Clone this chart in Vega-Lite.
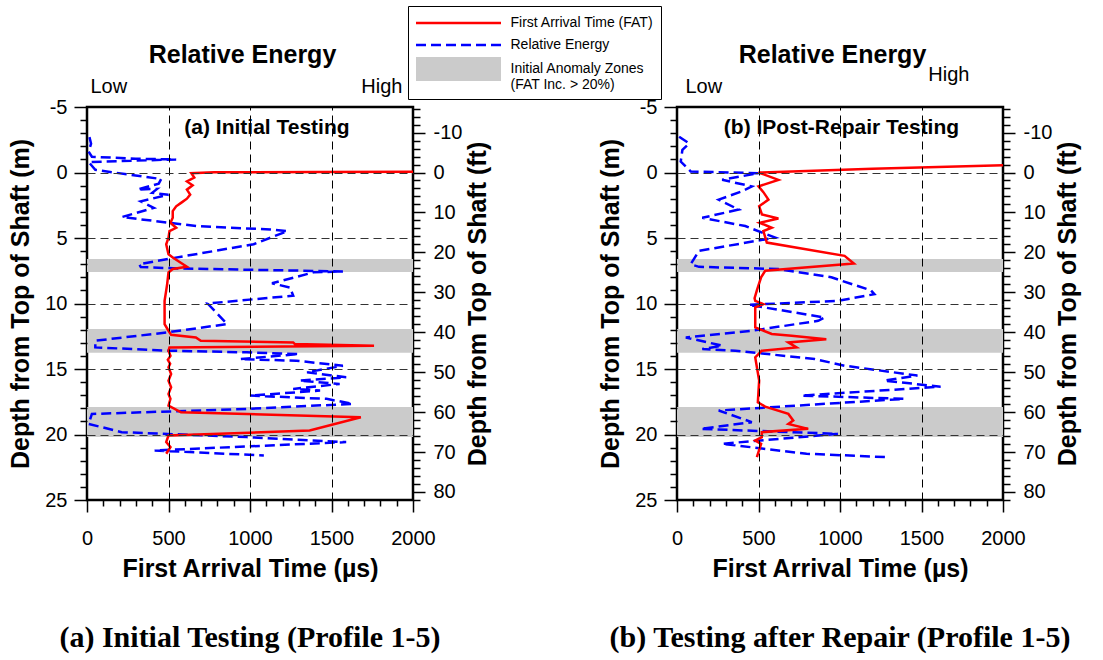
{
  "$schema": "https://vega.github.io/schema/vega-lite/v6.json",
  "background": "white",
  "padding": {"left": 7, "top": 5, "right": 5, "bottom": 5},
  "spacing": 104,
  "resolve": {"scale": {"color": "shared", "shape": "shared"}, "legend": {"color": "shared", "shape": "shared"}},
  "datasets": {
    "zones": [{"top": 6.6, "bottom": 7.6}, {"top": 11.95, "bottom": 13.75}, {"top": 17.9, "bottom": 20.2}],
    "one": [{"n": 1}],
    "fatA": [
      {"us": 2000, "depth": -0.05}, {"us": 1400, "depth": -0.04}, {"us": 780, "depth": -0.02}, {"us": 640, "depth": 0.05},
      {"us": 658, "depth": 0.38}, {"us": 613, "depth": 0.68}, {"us": 648, "depth": 0.98}, {"us": 613, "depth": 1.31},
      {"us": 633, "depth": 1.69}, {"us": 613, "depth": 2.0}, {"us": 577, "depth": 2.32}, {"us": 547, "depth": 2.58},
      {"us": 526, "depth": 2.95}, {"us": 526, "depth": 3.46}, {"us": 512, "depth": 3.84}, {"us": 547, "depth": 4.22},
      {"us": 506, "depth": 4.47}, {"us": 500, "depth": 4.97}, {"us": 486, "depth": 5.48}, {"us": 500, "depth": 6.24},
      {"us": 526, "depth": 6.49}, {"us": 613, "depth": 7.2}, {"us": 526, "depth": 7.37}, {"us": 500, "depth": 7.63},
      {"us": 492, "depth": 8.5}, {"us": 486, "depth": 9.0}, {"us": 476, "depth": 9.8}, {"us": 476, "depth": 11.57},
      {"us": 500, "depth": 12.08}, {"us": 516, "depth": 12.39}, {"us": 668, "depth": 12.59}, {"us": 698, "depth": 12.84},
      {"us": 1265, "depth": 12.97}, {"us": 1275, "depth": 13.1}, {"us": 1761, "depth": 13.22}, {"us": 506, "depth": 13.35},
      {"us": 500, "depth": 13.6}, {"us": 512, "depth": 14.0}, {"us": 496, "depth": 14.3}, {"us": 510, "depth": 14.6},
      {"us": 500, "depth": 14.87}, {"us": 516, "depth": 15.38}, {"us": 500, "depth": 15.89}, {"us": 516, "depth": 16.4},
      {"us": 500, "depth": 16.9}, {"us": 512, "depth": 17.28}, {"us": 500, "depth": 17.79}, {"us": 577, "depth": 18.3},
      {"us": 1680, "depth": 18.68}, {"us": 1366, "depth": 19.7}, {"us": 500, "depth": 20.08}, {"us": 486, "depth": 20.58},
      {"us": 512, "depth": 20.96}, {"us": 486, "depth": 21.47}
    ],
    "reA": [
      {"us": 15, "depth": -2.7}, {"us": 25, "depth": -2.2}, {"us": 10, "depth": -1.6}, {"us": 30, "depth": -1.2},
      {"us": 300, "depth": -1.05}, {"us": 547, "depth": -1.0}, {"us": 10, "depth": -0.8}, {"us": 51, "depth": -0.2},
      {"us": 455, "depth": 0.5}, {"us": 440, "depth": 0.85}, {"us": 310, "depth": 1.3}, {"us": 430, "depth": 1.25},
      {"us": 400, "depth": 1.55}, {"us": 500, "depth": 1.7}, {"us": 330, "depth": 2.2}, {"us": 410, "depth": 2.7},
      {"us": 215, "depth": 3.4}, {"us": 506, "depth": 3.84}, {"us": 680, "depth": 4.1}, {"us": 1125, "depth": 4.35},
      {"us": 1230, "depth": 4.47}, {"us": 1022, "depth": 5.48}, {"us": 496, "depth": 6.6}, {"us": 320, "depth": 7.0},
      {"us": 330, "depth": 7.22}, {"us": 580, "depth": 7.33}, {"us": 1570, "depth": 7.55}, {"us": 1390, "depth": 7.62},
      {"us": 1135, "depth": 8.46}, {"us": 1245, "depth": 8.78}, {"us": 1265, "depth": 9.4}, {"us": 740, "depth": 10.0},
      {"us": 860, "depth": 11.57}, {"us": 496, "depth": 12.2}, {"us": 51, "depth": 12.84}, {"us": 51, "depth": 13.35},
      {"us": 496, "depth": 13.6}, {"us": 980, "depth": 13.73}, {"us": 1300, "depth": 13.86}, {"us": 940, "depth": 14.24},
      {"us": 1285, "depth": 14.37}, {"us": 1570, "depth": 14.75}, {"us": 1350, "depth": 15.25}, {"us": 1590, "depth": 15.63},
      {"us": 1305, "depth": 15.89}, {"us": 1550, "depth": 16.14}, {"us": 1265, "depth": 16.52}, {"us": 1430, "depth": 16.65},
      {"us": 1000, "depth": 17.03}, {"us": 1470, "depth": 17.28}, {"us": 1630, "depth": 17.66}, {"us": 980, "depth": 18.05},
      {"us": 30, "depth": 18.43}, {"us": 10, "depth": 19.19}, {"us": 213, "depth": 19.82}, {"us": 980, "depth": 20.2},
      {"us": 1590, "depth": 20.58}, {"us": 415, "depth": 21.22}, {"us": 1085, "depth": 21.6}
    ],
    "fatB": [
      {"us": 2000, "depth": -0.55}, {"us": 1200, "depth": -0.28}, {"us": 500, "depth": 0.0}, {"us": 622, "depth": 0.56},
      {"us": 500, "depth": 1.06}, {"us": 530, "depth": 1.5}, {"us": 561, "depth": 2.07}, {"us": 504, "depth": 2.58},
      {"us": 521, "depth": 3.2}, {"us": 622, "depth": 3.51}, {"us": 508, "depth": 3.84}, {"us": 581, "depth": 4.22},
      {"us": 530, "depth": 4.47}, {"us": 551, "depth": 5.35}, {"us": 1028, "depth": 6.36}, {"us": 1085, "depth": 6.94},
      {"us": 541, "depth": 7.5}, {"us": 516, "depth": 8.0}, {"us": 490, "depth": 9.0}, {"us": 476, "depth": 9.6},
      {"us": 480, "depth": 9.8}, {"us": 530, "depth": 10.05}, {"us": 480, "depth": 10.3}, {"us": 480, "depth": 11.83},
      {"us": 581, "depth": 12.33}, {"us": 703, "depth": 12.46}, {"us": 916, "depth": 12.72}, {"us": 683, "depth": 12.97},
      {"us": 733, "depth": 13.35}, {"us": 520, "depth": 13.6}, {"us": 480, "depth": 14.11}, {"us": 504, "depth": 15.89},
      {"us": 496, "depth": 17.54}, {"us": 541, "depth": 17.87}, {"us": 683, "depth": 18.43}, {"us": 713, "depth": 18.93},
      {"us": 683, "depth": 19.19}, {"us": 805, "depth": 19.57}, {"us": 520, "depth": 19.82}, {"us": 520, "depth": 20.2},
      {"us": 480, "depth": 20.46}, {"us": 516, "depth": 20.71}, {"us": 490, "depth": 21.73}
    ],
    "reB": [
      {"us": 13, "depth": -2.73}, {"us": 74, "depth": -2.22}, {"us": 33, "depth": -1.72}, {"us": 23, "depth": -0.83},
      {"us": 84, "depth": -0.08}, {"us": 500, "depth": 0.05}, {"us": 277, "depth": 0.56}, {"us": 459, "depth": 1.06},
      {"us": 398, "depth": 1.44}, {"us": 256, "depth": 2.07}, {"us": 378, "depth": 2.83}, {"us": 155, "depth": 3.46},
      {"us": 419, "depth": 4.09}, {"us": 602, "depth": 4.97}, {"us": 135, "depth": 5.98}, {"us": 84, "depth": 7.0},
      {"us": 135, "depth": 7.2}, {"us": 622, "depth": 7.37}, {"us": 947, "depth": 8.0}, {"us": 1190, "depth": 9.0},
      {"us": 1211, "depth": 9.29}, {"us": 987, "depth": 9.8}, {"us": 439, "depth": 10.1}, {"us": 906, "depth": 11.07},
      {"us": 866, "depth": 11.32}, {"us": 459, "depth": 12.08}, {"us": 54, "depth": 12.59}, {"us": 277, "depth": 13.22},
      {"us": 155, "depth": 13.48}, {"us": 358, "depth": 13.6}, {"us": 845, "depth": 14.24}, {"us": 1028, "depth": 14.75},
      {"us": 1475, "depth": 15.5}, {"us": 1272, "depth": 15.89}, {"us": 1617, "depth": 16.35}, {"us": 764, "depth": 17.03},
      {"us": 1393, "depth": 17.28}, {"us": 256, "depth": 18.17}, {"us": 459, "depth": 19.06}, {"us": 145, "depth": 19.57},
      {"us": 987, "depth": 19.95}, {"us": 277, "depth": 20.71}, {"us": 795, "depth": 21.47}, {"us": 1292, "depth": 21.73}
    ]
  },
  "hconcat": [
    {
      "width": 326,
      "height": 393,
      "title": {"text": "(a) Initial Testing (Profile 1-5)", "orient": "bottom", "frame": "group", "anchor": "middle", "font": "Liberation Serif", "fontSize": 30, "fontWeight": "bold", "offset": 42, "color": "black"},
      "resolve": {"scale": {"y": "independent"}, "axis": {"x": "independent"}},
      "layer": [
        {
          "data": {"name": "zones"},
          "mark": {"type": "rect", "color": "#cbcbcb"},
          "encoding": {
            "y": {"field": "top", "type": "quantitative", "scale": {"domain": [-5, 25], "reverse": true, "nice": false, "zero": false}, "axis": null},
            "y2": {"field": "bottom"}
          }
        },
        {
          "data": {"name": "reA"},
          "mark": {"type": "line", "strokeWidth": 2.5, "strokeDash": [10, 5], "color": "#0000ff"},
          "encoding": {
            "x": {"field": "us", "type": "quantitative", "scale": {"domain": [0, 2000], "nice": false, "zero": false}, "axis": null},
            "y": {"field": "depth", "type": "quantitative", "scale": {"domain": [-5, 25], "reverse": true, "nice": false, "zero": false}, "axis": null},
            "order": {"value": null}
          }
        },
        {
          "data": {"name": "fatA"},
          "mark": {"type": "line", "strokeWidth": 2.5, "color": "#ff0000"},
          "encoding": {
            "x": {"field": "us", "type": "quantitative", "scale": {"domain": [0, 2000], "nice": false, "zero": false},
              "axis": {"orient": "bottom", "values": [0,100,200,300,400,500,600,700,800,900,1000,1100,1200,1300,1400,1500,1600,1700,1800,1900,2000],
                "labelExpr": "datum.value % 500 === 0 ? toString(datum.value) : ''", "labelFlush": false, "labelOverlap": false,
                "tickSize": {"condition": {"test": "datum.value % 500 === 0", "value": 12}, "value": 6}, "tickWidth": 1.5, "tickColor": "black",
                "domain": false, "grid": true, "gridDash": [8, 5], "gridColor": "black", "gridWidth": 1,
                "gridOpacity": {"condition": {"test": "datum.value % 500 === 0 && datum.value > 0 && datum.value < 2000", "value": 1}, "value": 0},
                "labelFontSize": 20, "labelPadding": 16, "labelColor": "black",
                "title": "First Arrival Time (µs)", "titleFontSize": 25, "titleFontWeight": "bold", "titlePadding": 8, "titleColor": "black", "zindex": 1}},
            "y": {"field": "depth", "type": "quantitative", "scale": {"domain": [-5, 25], "reverse": true, "nice": false, "zero": false},
              "axis": {"orient": "left", "values": [-5,-4,-3,-2,-1,0,1,2,3,4,5,6,7,8,9,10,11,12,13,14,15,16,17,18,19,20,21,22,23,24,25],
                "labelExpr": "datum.value % 5 === 0 ? toString(datum.value) : ''", "labelOverlap": false,
                "tickSize": {"condition": {"test": "datum.value % 5 === 0", "value": 13}, "value": 7}, "tickWidth": 1.5, "tickColor": "black",
                "domain": false, "grid": true, "gridDash": [8, 5], "gridColor": "#333333", "gridWidth": 1,
                "gridOpacity": {"condition": {"test": "datum.value % 5 === 0 && datum.value > -5 && datum.value < 25", "value": 1}, "value": 0},
                "labelFontSize": 20, "labelPadding": 7, "labelColor": "black",
                "title": "Depth from Top of Shaft (m)", "titleFontSize": 25, "titleFontWeight": "bold", "titlePadding": 11, "titleColor": "black", "zindex": 1}},
            "order": {"value": null}
          }
        },
        {
          "data": {"name": "one"},
          "mark": {"type": "text", "font": "Liberation Sans", "fontSize": 21, "fontWeight": "bold", "color": "black", "align": "center", "baseline": "middle"},
          "encoding": {
            "x": {"datum": 1104, "type": "quantitative", "scale": {"domain": [0, 2000], "nice": false, "zero": false}, "axis": null},
            "y": {"datum": -3.43, "type": "quantitative", "scale": {"domain": [-5, 25], "reverse": true, "nice": false, "zero": false}, "axis": null},
            "text": {"value": "(a) Initial Testing"}
          }
        },
        {
          "data": {"name": "one"},
          "mark": {"type": "point", "filled": true, "opacity": 0},
          "encoding": {
            "x": {"datum": 1000, "type": "quantitative", "scale": {"domain": [0, 2000], "nice": false, "zero": false}, "axis": null},
            "y": {"datum": 10, "type": "quantitative", "scale": {"domain": [-5, 25], "reverse": true, "nice": false, "zero": false}, "axis": null},
            "color": {"datum": "First Arrival Time (FAT)", "type": "nominal",
              "scale": {"domain": ["First Arrival Time (FAT)", "Relative Energy", "Initial Anomaly Zones"], "range": ["#ff0000", "#0000ff", "#cbcbcb"]},
              "legend": {
                "title": null, "orient": "none", "legendX": 321, "legendY": -101, "direction": "vertical",
                "strokeColor": "black", "fillColor": "white", "padding": 7,
                "symbolSize": 400, "symbolStrokeWidth": 0, "symbolOpacity": 1, "symbolOffset": 33.5,
                "labelFontSize": 14, "labelFont": "Liberation Sans", "labelColor": "black", "labelOffset": 42, "labelLimit": 300, "rowPadding": 5,
                "labelExpr": "datum.label === 'Initial Anomaly Zones' ? ['Initial Anomaly Zones', '(FAT Inc. > 20%)'] : datum.label"
              }},
            "shape": {"datum": "First Arrival Time (FAT)", "type": "nominal",
              "scale": {"domain": ["First Arrival Time (FAT)", "Relative Energy", "Initial Anomaly Zones"],
                "range": [
                  "M-4.25,-0.125H4.25V0.125H-4.25Z",
                  "M-4.25,-0.125H-3.25V0.125H-4.25Z M-2.75,-0.125H-1.75V0.125H-2.75Z M-1.25,-0.125H-0.25V0.125H-1.25Z M0.25,-0.125H1.25V0.125H0.25Z M1.75,-0.125H2.75V0.125H1.75Z M3.25,-0.125H4.25V0.125H3.25Z",
                  "M-4.25,-1.2H4.25V1.2H-4.25Z"
                ]},
              "legend": {
                "title": null, "orient": "none", "legendX": 321, "legendY": -101, "direction": "vertical",
                "strokeColor": "black", "fillColor": "white", "padding": 7,
                "symbolSize": 400, "symbolStrokeWidth": 0, "symbolOpacity": 1, "symbolOffset": 33.5,
                "labelFontSize": 14, "labelFont": "Liberation Sans", "labelColor": "black", "labelOffset": 42, "labelLimit": 300, "rowPadding": 5,
                "labelExpr": "datum.label === 'Initial Anomaly Zones' ? ['Initial Anomaly Zones', '(FAT Inc. > 20%)'] : datum.label"
              }}
          }
        },
        {
          "data": {"name": "one"},
          "mark": {"type": "point", "opacity": 0},
          "encoding": {
            "x": {"datum": 1000, "type": "quantitative", "scale": {"domain": [0, 2000], "nice": false, "zero": false},
              "axis": {"orient": "top", "values": [18, 1932], "labelExpr": "datum.value < 1000 ? 'Low' : 'High'", "ticks": false, "tickSize": 0,
                "domain": false, "grid": false, "labelFlush": false, "labelOverlap": false,
                "labelAlign": {"condition": {"test": "datum.value < 1000", "value": "left"}, "value": "right"},
                "labelFontSize": 20, "labelPadding": 11, "labelColor": "black",
                "title": "Relative Energy", "titleFontSize": 25, "titleFontWeight": "bold", "titleColor": "black", "titleX": 155, "titleY": -45, "titleBaseline": "alphabetic"}},
            "y": {"datum": 0, "type": "quantitative", "scale": {"domain": [-16.4042, 82.021], "reverse": true, "nice": false, "zero": false},
              "axis": {"orient": "right", "values": [-16,-14,-12,-10,-8,-6,-4,-2,0,2,4,6,8,10,12,14,16,18,20,22,24,26,28,30,32,34,36,38,40,42,44,46,48,50,52,54,56,58,60,62,64,66,68,70,72,74,76,78,80,82],
                "labelExpr": "datum.value % 10 === 0 ? toString(datum.value) : ''", "labelOverlap": false,
                "tickSize": {"condition": {"test": "datum.value % 10 === 0", "value": 12}, "value": 7}, "tickWidth": 1.5, "tickColor": "black",
                "domain": false, "grid": false, "labelFontSize": 20, "labelPadding": 8, "labelColor": "black",
                "title": "Depth from Top of Shaft (ft)", "titleFontSize": 25, "titleFontWeight": "bold", "titleAngle": 270, "titleBaseline": "top", "titlePadding": 4, "titleColor": "black"}}
          }
        }
      ]
    },
    {
      "width": 326,
      "height": 393,
      "title": {"text": "(b) Testing after Repair (Profile 1-5)", "orient": "bottom", "frame": "group", "anchor": "middle", "font": "Liberation Serif", "fontSize": 30, "fontWeight": "bold", "offset": 42, "color": "black"},
      "resolve": {"scale": {"y": "independent"}, "axis": {"x": "independent"}},
      "layer": [
        {
          "data": {"name": "zones"},
          "mark": {"type": "rect", "color": "#cbcbcb"},
          "encoding": {
            "y": {"field": "top", "type": "quantitative", "scale": {"domain": [-5, 25], "reverse": true, "nice": false, "zero": false}, "axis": null},
            "y2": {"field": "bottom"}
          }
        },
        {
          "data": {"name": "reB"},
          "mark": {"type": "line", "strokeWidth": 2.5, "strokeDash": [10, 5], "color": "#0000ff"},
          "encoding": {
            "x": {"field": "us", "type": "quantitative", "scale": {"domain": [0, 2000], "nice": false, "zero": false}, "axis": null},
            "y": {"field": "depth", "type": "quantitative", "scale": {"domain": [-5, 25], "reverse": true, "nice": false, "zero": false}, "axis": null},
            "order": {"value": null}
          }
        },
        {
          "data": {"name": "fatB"},
          "mark": {"type": "line", "strokeWidth": 2.5, "color": "#ff0000"},
          "encoding": {
            "x": {"field": "us", "type": "quantitative", "scale": {"domain": [0, 2000], "nice": false, "zero": false},
              "axis": {"orient": "bottom", "values": [0,100,200,300,400,500,600,700,800,900,1000,1100,1200,1300,1400,1500,1600,1700,1800,1900,2000],
                "labelExpr": "datum.value % 500 === 0 ? toString(datum.value) : ''", "labelFlush": false, "labelOverlap": false,
                "tickSize": {"condition": {"test": "datum.value % 500 === 0", "value": 12}, "value": 6}, "tickWidth": 1.5, "tickColor": "black",
                "domain": false, "grid": true, "gridDash": [8, 5], "gridColor": "black", "gridWidth": 1,
                "gridOpacity": {"condition": {"test": "datum.value % 500 === 0 && datum.value > 0 && datum.value < 2000", "value": 1}, "value": 0},
                "labelFontSize": 20, "labelPadding": 16, "labelColor": "black",
                "title": "First Arrival Time (µs)", "titleFontSize": 25, "titleFontWeight": "bold", "titlePadding": 8, "titleColor": "black", "zindex": 1}},
            "y": {"field": "depth", "type": "quantitative", "scale": {"domain": [-5, 25], "reverse": true, "nice": false, "zero": false},
              "axis": {"orient": "left", "values": [-5,-4,-3,-2,-1,0,1,2,3,4,5,6,7,8,9,10,11,12,13,14,15,16,17,18,19,20,21,22,23,24,25],
                "labelExpr": "datum.value % 5 === 0 ? toString(datum.value) : ''", "labelOverlap": false,
                "tickSize": {"condition": {"test": "datum.value % 5 === 0", "value": 13}, "value": 7}, "tickWidth": 1.5, "tickColor": "black",
                "domain": false, "grid": true, "gridDash": [8, 5], "gridColor": "#333333", "gridWidth": 1,
                "gridOpacity": {"condition": {"test": "datum.value % 5 === 0 && datum.value > -5 && datum.value < 25", "value": 1}, "value": 0},
                "labelFontSize": 20, "labelPadding": 7, "labelColor": "black",
                "title": "Depth from Top of Shaft (m)", "titleFontSize": 25, "titleFontWeight": "bold", "titlePadding": 11, "titleColor": "black", "zindex": 1}},
            "order": {"value": null}
          }
        },
        {
          "data": {"name": "one"},
          "mark": {"type": "text", "font": "Liberation Sans", "fontSize": 21, "fontWeight": "bold", "color": "black", "align": "center", "baseline": "middle"},
          "encoding": {
            "x": {"datum": 1009, "type": "quantitative", "scale": {"domain": [0, 2000], "nice": false, "zero": false}, "axis": null},
            "y": {"datum": -3.43, "type": "quantitative", "scale": {"domain": [-5, 25], "reverse": true, "nice": false, "zero": false}, "axis": null},
            "text": {"value": "(b) IPost-Repair Testing"}
          }
        },
        {
          "data": {"name": "one"},
          "mark": {"type": "point", "opacity": 0},
          "encoding": {
            "x": {"datum": 1000, "type": "quantitative", "scale": {"domain": [0, 2000], "nice": false, "zero": false},
              "axis": {"orient": "top", "values": [49, 1791], "labelExpr": "datum.value < 1000 ? 'Low' : 'High'", "ticks": false, "tickSize": 0,
                "domain": false, "grid": false, "labelFlush": false, "labelOverlap": false,
                "labelAlign": {"condition": {"test": "datum.value < 1000", "value": "left"}, "value": "right"},
                "labelPadding": {"condition": {"test": "datum.value > 1000", "value": 23}, "value": 11},
                "labelFontSize": 20, "labelColor": "black",
                "title": "Relative Energy", "titleFontSize": 25, "titleFontWeight": "bold", "titleColor": "black", "titleX": 155, "titleY": -45, "titleBaseline": "alphabetic"}},
            "y": {"datum": 0, "type": "quantitative", "scale": {"domain": [-16.4042, 82.021], "reverse": true, "nice": false, "zero": false},
              "axis": {"orient": "right", "values": [-16,-14,-12,-10,-8,-6,-4,-2,0,2,4,6,8,10,12,14,16,18,20,22,24,26,28,30,32,34,36,38,40,42,44,46,48,50,52,54,56,58,60,62,64,66,68,70,72,74,76,78,80,82],
                "labelExpr": "datum.value % 10 === 0 ? toString(datum.value) : ''", "labelOverlap": false,
                "tickSize": {"condition": {"test": "datum.value % 10 === 0", "value": 12}, "value": 7}, "tickWidth": 1.5, "tickColor": "black",
                "domain": false, "grid": false, "labelFontSize": 20, "labelPadding": 8, "labelColor": "black",
                "title": "Depth from Top of Shaft (ft)", "titleFontSize": 25, "titleFontWeight": "bold", "titleAngle": 270, "titleBaseline": "top", "titlePadding": 4, "titleColor": "black"}}
          }
        }
      ]
    }
  ],
  "config": {
    "font": "Liberation Sans",
    "view": {"stroke": "black", "strokeWidth": 2.5},
    "axis": {"labelFont": "Liberation Sans", "titleFont": "Liberation Sans"}
  }
}
